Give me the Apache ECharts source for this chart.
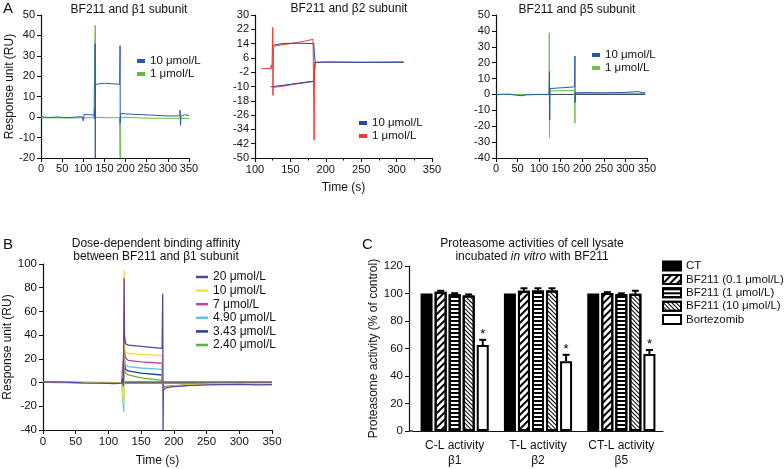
<!DOCTYPE html>
<html><head><meta charset="utf-8">
<script src="https://cdn.jsdelivr.net/npm/echarts/dist/echarts.min.js"></script>
<style>html,body{margin:0;padding:0;background:#fff}#c{width:784px;height:469px}</style>
</head><body><div id="c"></div>
<script>
// ---------- Panel A1: BF211 and β1 subunit ----------
const a1Blue10 = [[0,0.2],[20,-0.2],[40,0.1],[60,-0.3],[80,0],[97,0.2],[100,-1.8],[102,1.3],[115,1.2],[126,1],[127,4],[127.5,-1],[128,36],[128.4,-20],[128.8,16],[135,16.2],[150,16.6],[170,16.3],[186,16.1],[187,35],[187.4,-3],[187.8,1.8],[200,1.6],[230,1.3],[260,1],[300,0.6],[328,0.6],[329,3.5],[330,-4],[331,0.5],[340,1.2],[350,0.8]];
const a1Green1 = [[0,-0.3],[60,-0.4],[125,-0.3],[127.8,0],[128.3,45],[128.8,0],[150,-0.3],[186,-0.3],[187.2,-20],[187.6,0],[188,-0.5],[250,-0.5],[350,-0.6]];
// ---------- Panel A2: BF211 and β2 subunit ----------
const a2Blue10Up = [[125,13],[127,13.3],[130,13.5],[140,14.1],[160,14.2],[183,14],[184,8],[185,3.5],[200,3.6],[250,3.5],[310,3.5]];
const a2Blue10Low = [[122,-10.2],[140,-9.3],[160,-8.2],[183,-7],[184,-2],[185,3.5]];
const a2Red1Up = [[109,0],[122,0],[123,2],[124,0],[125,23],[125.4,-15],[126,12],[130,12.8],[150,14],[170,15.3],[182,16.4],[183,16],[183.5,-40],[184,3.5],[200,3.8],[250,3.6],[310,3.8]];
const a2Red1Low = [[125,-10.5],[140,-9.8],[160,-8.5],[183,-7.2],[184,-1],[185,3.5]];
// ---------- Panel A3: BF211 and β5 subunit ----------
const a3Blue10 = [[0,0],[30,0.2],[50,-0.6],[60,-0.8],[70,-0.3],[100,0],[123,0],[124,14.3],[124.5,-16],[125,3.6],[140,4],[160,4.3],[182,4.8],[183,24.2],[183.5,-5],[184,1],[200,1.2],[250,1],[300,1.3],[330,1.8],[340,1],[346,1.2]];
const a3Green1 = [[0,0],[100,0],[123,0],[123.5,38.8],[124,-27.2],[124.5,2.2],[150,2.4],[182,2.6],[183,-18.2],[183.5,0.6],[250,0.8],[346,0.6]];
const a3Ref = [[120,0],[346,0]];
// ---------- Panel B: dose-dependent ----------
const bNames = ['20 μmol/L','10 μmol/L   ','7 μmol/L','4.90 μmol/L','3.43 μmol/L','2.40 μmol/L'];
const b20 = [[0,0.5],[30,0.3],[60,-0.3],[90,-0.5],[110,-0.8],[120,-0.5],[122,4],[122.5,-3],[123,0],[124,88],[124.5,40],[126,33],[130,31.5],[150,30.5],[170,29.5],[182,28.9],[183,75],[183.5,-40],[184,-6],[186,-5],[190,-4],[200,-3.5],[220,-2.5],[250,-2],[300,-1.5],[330,-2],[350,-1.8]];
const b10 = [[0,0.3],[120,-0.3],[123,-0.5],[123.5,-18],[124,95],[124.5,35],[126,26],[130,24.5],[150,23.8],[182,22.7],[183,-3],[184,-5],[190,-3.5],[220,-2],[260,-1.2],[350,-1]];
const b7 = [[0,0.3],[120,-0.3],[123,0],[124,30],[126,21],[130,18.8],[150,17.5],[182,16.3],[183,-4],[186,-4.5],[200,-3],[250,-1.5],[350,-1]];
const b490 = [[0,0.2],[120,-0.3],[123,-0.3],[123.5,-24.5],[124,24],[126,15.5],[130,13.4],[150,12.3],[182,11.2],[183,-4],[186,-4.5],[200,-3],[250,-1.5],[350,-1.2]];
const b343 = [[0,0.2],[123,0],[124,18],[126,11.5],[130,9.8],[150,8],[182,6.4],[183,-4],[186,-4.2],[200,-2.8],[250,-1.3],[350,-1]];
const b240 = [[0,0.2],[123,0],[124,14],[126,8],[130,6.4],[150,4],[182,1.9],[183,-3.5],[186,-4],[200,-2.5],[250,-1.2],[350,-1]];
const bRef = [[123,0],[350,0]];
// ---------- Panel C: proteasome activities ----------
const cCategories = ['C-L activity\nβ1','T-L activity\nβ2','CT-L activity\nβ5'];
const cNames = ['CT','BF211 (0.1 μmol/L)','BF211 (1 μmol/L)','BF211 (10 μmol/L)','Bortezomib'];
const cCT = [100,100,100];
const cBF01 = [101.2,102,100.3];
const cBF1 = [99.5,102.2,99.5];
const cBF10 = [98.5,102.2,99.8];
const cBort = [62.5,50.8,56];
const cErrCT = [0,0,0];
const cErrBF01 = [0.8,1.8,0.7];
const cErrBF1 = [0.7,1.6,0.6];
const cErrBF10 = [0.8,1.6,2.2];
const cErrBort = [3.8,4.6,2.9];

const FONT = '"Liberation Sans", Arial, Helvetica, sans-serif';
const INK = '#111';
const chart = echarts.init(document.getElementById('c'), null, {renderer:'canvas'});

function valAxis(gi, min, max, interval, extra) {
  return Object.assign({
    type:'value', gridIndex:gi, min, max, interval,
    axisLine:{show:true, onZero:false, lineStyle:{color:INK, width:1.2}},
    axisTick:{show:true, length:4, lineStyle:{color:INK, width:1}},
    axisLabel:{color:INK, fontSize:11, fontFamily:FONT, margin:6},
    splitLine:{show:false},
    nameTextStyle:{color:INK, fontSize:12, fontFamily:FONT}
  }, extra || {});
}
function line(name, data, color, gi, width) {
  return {type:'line', name, data, xAxisIndex:gi, yAxisIndex:gi, showSymbol:false, symbol:'none',
    lineStyle:{color, width: width || 1}, itemStyle:{color}, animation:false, silent:true};
}
function mkLegend(left, top, names, opts) {
  return Object.assign({
    left, top, orient:'vertical', data:names, icon:'rect', itemWidth:8, itemHeight:4, itemGap:1,
    padding:0, selectedMode:false,
    textStyle:{color:INK, fontSize:11.5, lineHeight:12, fontFamily:FONT}
  }, opts || {});
}

const bColors = ['#5b3fa6','#f0e232','#b9479f','#5cc6e0','#1c3f9c','#5fb233'];
const bData = [b20,b10,b7,b490,b343,b240];

const blueA = '#2b58b4', greenA = '#62bb3c', redA = '#ec3a32';

const series = [
  line('1 μmol/L', a1Green1, greenA, 0),
  line('10 μmol/L', a1Blue10, blueA, 0),
  line('1 μmol/L ', a2Red1Low, redA, 1),
  line('10 μmol/L ', a2Blue10Low, '#27479f', 1),
  line('1 μmol/L ', a2Red1Up, redA, 1),
  line('10 μmol/L ', a2Blue10Up, '#27479f', 1),
  line('ref3', a3Ref, '#33454e', 2),
  line('1 μmol/L  ', a3Green1, '#6cc24a', 2),
  line('10 μmol/L  ', a3Blue10, '#2456ad', 2),
  line('refB', bRef, '#6a6a6a', 3, 2.5)
];
for (let i = bData.length - 1; i >= 0; i--) series.push(line(bNames[i], bData[i], bColors[i], 3, 1.3));

const cVals = [cCT, cBF01, cBF1, cBF10, cBort];
const cErrs = [cErrCT, cErrBF01, cErrBF1, cErrBF10, cErrBort];
const decals = [
  null,
  {symbol:'rect', symbolSize:1, color:'#000', dashArrayX:[1,0], dashArrayY:[1.1,2.4], rotation:-Math.PI/4},
  {symbol:'rect', symbolSize:1, color:'#000', dashArrayX:[1,0], dashArrayY:[1.3,1.7], rotation:0},
  {symbol:'rect', symbolSize:1, color:'#000', dashArrayX:[1,0], dashArrayY:[0.9,1.4], rotation:Math.PI/4},
  null
];
cVals.forEach((vals, j) => {
  const st = {color: j === 0 ? '#000' : '#fff', borderColor:'#000', borderWidth:2};
  if (decals[j]) st.decal = decals[j];
  series.push({type:'bar', name:cNames[j], data:vals, xAxisIndex:4, yAxisIndex:4, barWidth:12, barGap:'17%',
    itemStyle:st, animation:false, silent:true});
});
const errData = [];
cErrs.forEach((errs, j) => errs.forEach((e, i) => errData.push([i, j, cVals[j][i], e])));
series.push({
  type:'custom', xAxisIndex:4, yAxisIndex:4, data:errData, encode:{x:0, y:2}, z:10, animation:false, silent:true,
  renderItem(params, api) {
    const cat = api.value(0), j = api.value(1), v = api.value(2), e = api.value(3);
    if (!e) return null;
    const b = api.coord([cat, v]), t = api.coord([cat, v + e]);
    const x = b[0] + (j - 2) * 14.04;
    const children = [
      {type:'line', shape:{x1:x, y1:b[1], x2:x, y2:t[1]}, style:{stroke:'#000', lineWidth:2}},
      {type:'line', shape:{x1:x-3.5, y1:t[1], x2:x+3.5, y2:t[1]}, style:{stroke:'#000', lineWidth:2}}
    ];
    if (j === 4) children.push({type:'text', x:x, y:t[1]+1, style:{text:'*', fill:'#000', font:'13px '+FONT, align:'center', verticalAlign:'bottom'}});
    return {type:'group', children};
  }
});

const option = {
  backgroundColor:'#fff',
  animation:false,
  grid:[
    {left:41, top:15, width:148, height:143, containLabel:false, outerBoundsMode:'none'},
    {left:255, top:15, width:177, height:143, containLabel:false, outerBoundsMode:'none'},
    {left:496, top:15, width:151, height:143, containLabel:false, outerBoundsMode:'none'},
    {left:43, top:264, width:229, height:166, containLabel:false, outerBoundsMode:'none'},
    {left:413, top:266, width:250, height:165, containLabel:false, outerBoundsMode:'none'}
  ],
  xAxis:[
    valAxis(0, 0, 350, 50, {axisLabel:{color:INK, fontSize:11, fontFamily:FONT, margin:5}}),
    valAxis(1, 100, 350, 50, {name:'Time (s)', nameLocation:'middle', nameGap:24,
      minorTick:{show:true, splitNumber:2, length:2.5, lineStyle:{color:INK}},
      axisLabel:{color:INK, fontSize:11, fontFamily:FONT, margin:6}}),
    valAxis(2, 0, 350, 50, {axisLabel:{color:INK, fontSize:11, fontFamily:FONT, margin:5}}),
    valAxis(3, 0, 350, 50, {name:'Time (s)', nameLocation:'middle', nameGap:25,
      axisLabel:{color:INK, fontSize:11.5, fontFamily:FONT, margin:6}}),
    {type:'category', gridIndex:4, data:cCategories,
      axisLine:{show:true, lineStyle:{color:INK, width:1.2}}, axisTick:{show:false},
      axisLabel:{color:INK, fontSize:12, fontFamily:FONT, margin:7, lineHeight:15, interval:0, hideOverlap:false}, splitLine:{show:false}}
  ],
  yAxis:[
    valAxis(0, -20, 50, 10, {name:'Response unit (RU)', nameLocation:'middle', nameGap:24}),
    valAxis(1, -50, 30, 8),
    valAxis(2, -40, 50, 10),
    valAxis(3, -40, 100, 20, {name:'Response unit (RU)', nameLocation:'middle', nameGap:28,
      axisLabel:{color:INK, fontSize:11.5, fontFamily:FONT, margin:6}}),
    valAxis(4, 0, 120, 20, {name:'Proteasome activity (% of control)', nameLocation:'middle', nameGap:26, offset:4,
      axisLabel:{color:INK, fontSize:11.5, fontFamily:FONT, margin:6}})
  ],
  legend:[
    mkLegend(137, 55, ['10 μmol/L','1 μmol/L']),
    mkLegend(359, 117, ['10 μmol/L ','1 μmol/L ']),
    mkLegend(592, 49, ['10 μmol/L  ','1 μmol/L  ']),
    mkLegend(196, 271, bNames, {itemWidth:12, itemHeight:2.5, itemGap:1.6,
      textStyle:{color:INK, fontSize:12, lineHeight:12, fontFamily:FONT}}),
    mkLegend(662, 260, cNames, {icon:'rect', itemWidth:18, itemHeight:9, itemGap:1.4,
      textStyle:{color:INK, fontSize:11.5, lineHeight:12, fontFamily:FONT}})
  ],
  graphic:[
    {type:'line', shape:{x1:409, y1:431, x2:413, y2:431}, style:{stroke:INK, lineWidth:1.2}},
    {type:'text', x:3, y:1, style:{text:'A', font:'15px '+FONT, fill:INK}},
    {type:'text', x:3, y:237, style:{text:'B', font:'15px '+FONT, fill:INK}},
    {type:'text', x:362, y:237, style:{text:'C', font:'15px '+FONT, fill:INK}},
    {type:'text', x:129, y:10, style:{text:'BF211 and β1 subunit', font:'12px '+FONT, fill:INK, align:'center', verticalAlign:'middle'}},
    {type:'text', x:349, y:9, style:{text:'BF211 and β2 subunit', font:'12px '+FONT, fill:INK, align:'center', verticalAlign:'middle'}},
    {type:'text', x:577, y:10, style:{text:'BF211 and β5 subunit', font:'12px '+FONT, fill:INK, align:'center', verticalAlign:'middle'}},
    {type:'text', x:156, y:244, style:{text:'Dose-dependent binding affinity', font:'12px '+FONT, fill:INK, align:'center', verticalAlign:'middle'}},
    {type:'text', x:156, y:257, style:{text:'between BF211 and β1 subunit', font:'12px '+FONT, fill:INK, align:'center', verticalAlign:'middle'}},
    {type:'text', x:532, y:244, style:{text:'Proteasome activities of cell lysate', font:'12px '+FONT, fill:INK, align:'center', verticalAlign:'middle'}},
    {type:'text', x:532, y:257, style:{text:'{n|incubated }{i|in vitro}{n| with BF211}', align:'center', verticalAlign:'middle',
      rich:{n:{fontSize:12, fontFamily:FONT, fill:INK, color:INK}, i:{fontSize:12, fontFamily:FONT, fontStyle:'italic', fill:INK, color:INK}}}}
  ],
  series
};
chart.setOption(option);
</script></body></html>
